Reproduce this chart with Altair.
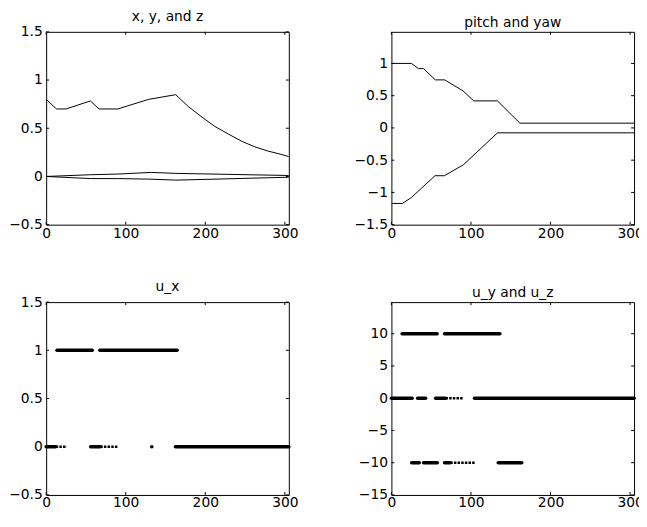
import altair as alt
import pandas as pd

# ---------------- data ----------------
# panel 1: x, y and z
x_t = [0, 13, 25, 55.5, 66.5, 90, 129, 162.7, 179, 196, 212, 229, 245.5, 262, 278.5, 295, 305]
x_v = [0.80, 0.70, 0.70, 0.783, 0.70, 0.70, 0.80, 0.848, 0.723, 0.614, 0.519, 0.44, 0.366, 0.308, 0.264, 0.230, 0.206]
y_t = [0, 56, 90, 132, 163, 305]
y_v = [0, 0.018, 0.025, 0.042, 0.032, 0.01]
z_t = [0, 56, 90, 132, 163, 305]
z_v = [0, -0.022, -0.022, -0.028, -0.038, -0.008]

# panel 2: pitch and yaw
pitch_t = [0, 25.2, 34, 40.3, 55.2, 67, 90, 103.5, 133.3, 161.5, 305]
pitch_v = [1.0, 1.0, 0.92, 0.92, 0.745, 0.745, 0.574, 0.419, 0.419, 0.074, 0.074]
yaw_t = [0, 13.8, 25, 54.8, 66.6, 90.4, 133.4, 305]
yaw_v = [-1.171, -1.171, -1.08, -0.741, -0.741, -0.572, -0.076, -0.076]

# panel 3: u_x  (runs of dots: start, end, value)
ux_dense_start = [13.6, 67.5, 0, 56, 162.5, 132.8]
ux_dense_end = [57.9, 164.5, 12, 68, 305, 132.8]
ux_dense_val = [1, 1, 0, 0, 0, 0]
ux_sparse_start = [12, 68]
ux_sparse_end = [26, 91]
ux_sparse_val = [0, 0]

# panel 4: u_y and u_z
uyz_dense_start = [13.5, 66.8, 0, 33, 55.5, 104.5, 25.5, 40.5, 66.8, 134.3]
uyz_dense_end = [57.5, 136.3, 26, 43, 68, 305, 35, 57.7, 74, 163.8]
uyz_dense_val = [10, 10, 0, 0, 0, 0, -10, -10, -10, -10]
uyz_sparse_start = [68, 74]
uyz_sparse_end = [90.7, 105.3]
uyz_sparse_val = [0, -10]

titles = ["x, y, and z", "pitch and yaw", "u_x", "u_y and u_z"]
x_ticks = [0, 100, 200, 300]
y_ticks_1 = [-0.5, 0, 0.5, 1, 1.5]
y_ticks_2 = [-1.5, -1, -0.5, 0, 0.5, 1]
y_ticks_3 = [-0.5, 0, 0.5, 1, 1.5]
y_ticks_4 = [-15, -10, -5, 0, 5, 10]

X_DOMAIN = [0, 305]
W, H = 246, 195.5
TL = 3  # inner tick length


def series_df(pairs):
    rows = []
    for name, ts, vs in pairs:
        for t, v in zip(ts, vs):
            rows.append({"s": name, "t": t, "v": v})
    return pd.DataFrame(rows)


def seg_df(s, e, v):
    return pd.DataFrame({"t": s, "t2": e, "v": v})


def axes(yticks, xpad):
    common = dict(ticks=False, domain=False, grid=False, title=None, format="~f",
                  labelFlush=False, labelOverlap=False)
    xa = alt.Axis(values=x_ticks, labelPadding=xpad, **common)
    ya = alt.Axis(values=yticks, labelPadding=4, **common)
    return xa, ya


def frame_layers(xs, ys, xa, ya, yticks):
    ydf = pd.DataFrame({"v": yticks})
    xdf = pd.DataFrame({"t": x_ticks})
    yl = alt.Chart(ydf).mark_rule(color="black", strokeWidth=1).encode(
        y=alt.Y("v:Q", scale=ys, axis=ya), x=alt.value(0), x2=alt.value(TL))
    yr = alt.Chart(ydf).mark_rule(color="black", strokeWidth=1).encode(
        y=alt.Y("v:Q", scale=ys, axis=ya), x=alt.value(W - TL), x2=alt.value(W))
    xb = alt.Chart(xdf).mark_rule(color="black", strokeWidth=1).encode(
        x=alt.X("t:Q", scale=xs, axis=xa), y=alt.value(H - TL), y2=alt.value(H))
    xt = alt.Chart(xdf).mark_rule(color="black", strokeWidth=1).encode(
        x=alt.X("t:Q", scale=xs, axis=xa), y=alt.value(0), y2=alt.value(TL))
    return [yl, yr, xb, xt]


def line_panel(title, df, ydom, yticks, xpad):
    xs = alt.Scale(domain=X_DOMAIN, nice=False, zero=False)
    ys = alt.Scale(domain=ydom, nice=False, zero=False)
    xa, ya = axes(yticks, xpad)
    lines = alt.Chart(df).mark_line(color="black", strokeWidth=1, clip=True).encode(
        x=alt.X("t:Q", scale=xs, axis=xa),
        y=alt.Y("v:Q", scale=ys, axis=ya),
        detail="s:N",
        order="t:Q",
    )
    return alt.layer(lines, *frame_layers(xs, ys, xa, ya, yticks)).properties(
        width=W, height=H, title=alt.TitleParams(title, frame="group"))


def dot_panel(title, dense, sparse, ydom, yticks, xpad):
    xs = alt.Scale(domain=X_DOMAIN, nice=False, zero=False)
    ys = alt.Scale(domain=ydom, nice=False, zero=False)
    xa, ya = axes(yticks, xpad)
    d = alt.Chart(dense).mark_rule(color="black", strokeWidth=3.6, strokeCap="round").encode(
        x=alt.X("t:Q", scale=xs, axis=xa),
        x2="t2:Q",
        y=alt.Y("v:Q", scale=ys, axis=ya),
    )
    s = alt.Chart(sparse).mark_rule(color="black", strokeWidth=2.6, strokeDash=[2.5, 1.2]).encode(
        x=alt.X("t:Q", scale=xs, axis=xa),
        x2="t2:Q",
        y=alt.Y("v:Q", scale=ys, axis=ya),
    )
    return alt.layer(d, s, *frame_layers(xs, ys, xa, ya, yticks)).properties(
        width=W, height=H, title=alt.TitleParams(title, frame="group"))


p1 = line_panel(titles[0], series_df([("x", x_t, x_v), ("y", y_t, y_v), ("z", z_t, z_v)]),
                [-0.5, 1.5], y_ticks_1, 2.5)
p2 = line_panel(titles[1], series_df([("pitch", pitch_t, pitch_v), ("yaw", yaw_t, yaw_v)]),
                [-1.5, 1.49], y_ticks_2, 2.5)
p3 = dot_panel(titles[2], seg_df(ux_dense_start, ux_dense_end, ux_dense_val),
               seg_df(ux_sparse_start, ux_sparse_end, ux_sparse_val), [-0.5, 1.5], y_ticks_3, 0.5)
p4 = dot_panel(titles[3], seg_df(uyz_dense_start, uyz_dense_end, uyz_dense_val),
               seg_df(uyz_sparse_start, uyz_sparse_end, uyz_sparse_val), [-15, 14.9], y_ticks_4, 0.5)

chart = alt.concat(p1, p2, p3, p4, columns=2, spacing={"row": 78, "column": 104},
                   bounds="flush").properties(
    padding={"left": -0.3, "top": -2.3, "right": -5, "bottom": -3},
    background="white",
).configure_view(
    stroke="black", strokeWidth=1
).configure_axis(
    labelFont="DejaVu Sans", labelFontSize=14, labelColor="black"
).configure_title(
    font="DejaVu Sans", fontSize=14, fontWeight="normal", color="black",
    anchor="middle", baseline="alphabetic", offset=1.4
)

chart.save("out.html", embed_options={"renderer": "svg", "actions": False})
